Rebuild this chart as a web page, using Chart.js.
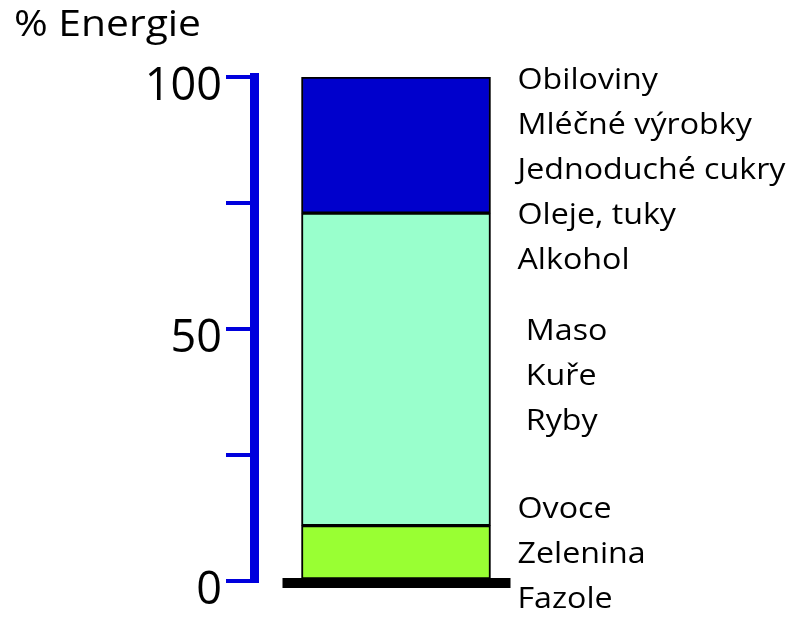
<!DOCTYPE html>
<html>
<head>
<meta charset="utf-8">
<script src="https://cdn.jsdelivr.net/npm/chart.js@4"></script>
<style>
  html, body { margin: 0; padding: 0; background: #fff; }
  #wrap { width: 808px; height: 620px; }
</style>
</head>
<body>
<div id="wrap"><canvas id="energy"></canvas></div>
<script>
const categories = ["Energie"];
const plantValues = [11];   // Ovoce, Zelenina, Fazole
const animalValues = [62];  // Maso, Kuře, Ryby
const otherValues = [27];   // Obiloviny ... Alkohol
const yTicks = [0, 25, 50, 75, 100];
const yTickLabels = ["0", "", "50", "", "100"];

const topLabels = ["Obiloviny", "Mléčné výrobky", "Jednoduché cukry", "Oleje, tuky", "Alkohol"];
const middleLabels = ["Maso", "Kuře", "Ryby"];
const bottomLabels = ["Ovoce", "Zelenina", "Fazole"];

// text in the picture is a bit wider than Open Sans, so stretch it horizontally
function wideText(ctx, text, x, y, stretch) {
  ctx.save();
  ctx.translate(x, y);
  ctx.scale(stretch, 1);
  ctx.fillText(text, 0, 0);
  ctx.restore();
}

// title, side captions and the black base under the bar
const decorations = {
  id: "decorations",
  afterDatasetsDraw(chart) {
    const ctx = chart.ctx;
    const y = chart.scales.y;
    const bar = chart.getDatasetMeta(0).data[0];
    ctx.save();
    ctx.fillStyle = "#000";
    const left = bar.x - bar.width / 2 - 19;
    const right = bar.x + bar.width / 2 + 20;
    ctx.fillRect(left, y.getPixelForValue(0) - 3, right - left, 10);

    ctx.textBaseline = "alphabetic";
    ctx.font = "36px 'Open Sans'";
    wideText(ctx, "% Energie", 14, 36, 187 / ctx.measureText("% Energie").width);

    ctx.font = "29px 'Open Sans'";
    const s = 268 / ctx.measureText("Jednoduché cukry").width;
    const lineH = 45;
    const x0 = right + 7;
    topLabels.forEach((t, i) => wideText(ctx, t, x0, y.getPixelForValue(100) + 12 + i * lineH, s));
    middleLabels.forEach((t, i) => wideText(ctx, " " + t, x0, y.getPixelForValue(50) + 11 + i * lineH, s));
    const lastY = y.getPixelForValue(0) + 27;
    bottomLabels.forEach((t, i) => wideText(ctx, t, x0, lastY - (bottomLabels.length - 1 - i) * lineH, s));
    ctx.restore();
  }
};

new Chart(document.getElementById("energy"), {
  type: "bar",
  data: {
    labels: categories,
    datasets: [
      { label: "Ovoce, zelenina, fazole", data: plantValues, backgroundColor: "#99ff33" },
      { label: "Maso, kuře, ryby", data: animalValues, backgroundColor: "#99ffcc" },
      { label: "Obiloviny, mléčné výrobky, cukry, tuky, alkohol", data: otherValues, backgroundColor: "#0000cc" }
    ].map(d => Object.assign(d, {
      borderColor: "#000", borderWidth: 2, borderSkipped: false, barThickness: 189
    }))
  },
  options: {
    responsive: true,
    maintainAspectRatio: false,
    animation: false,
    layout: { padding: { left: 0, right: 270, top: 77, bottom: 39 } },
    scales: {
      x: {
        stacked: true,
        display: false
      },
      y: {
        stacked: true,
        min: 0,
        max: 100,
        afterFit(scale) { scale.width = 254; },
        afterBuildTicks(scale) { scale.ticks = yTicks.map(v => ({ value: v })); },
        border: { display: true, color: "#0000dd", width: 9 },
        grid: { drawOnChartArea: false, color: "#0000dd", lineWidth: 4, tickLength: 28 },
        ticks: {
          color: "#000",
          padding: 4,
          labelOffset: 10,
          font: { family: "'Open Sans'", size: 45 },
          callback: (v, i) => yTickLabels[i]
        }
      }
    },
    plugins: {
      legend: { display: false },
      tooltip: { enabled: false },
      title: { display: false }
    }
  },
  plugins: [decorations]
});
</script>
</body>
</html>
